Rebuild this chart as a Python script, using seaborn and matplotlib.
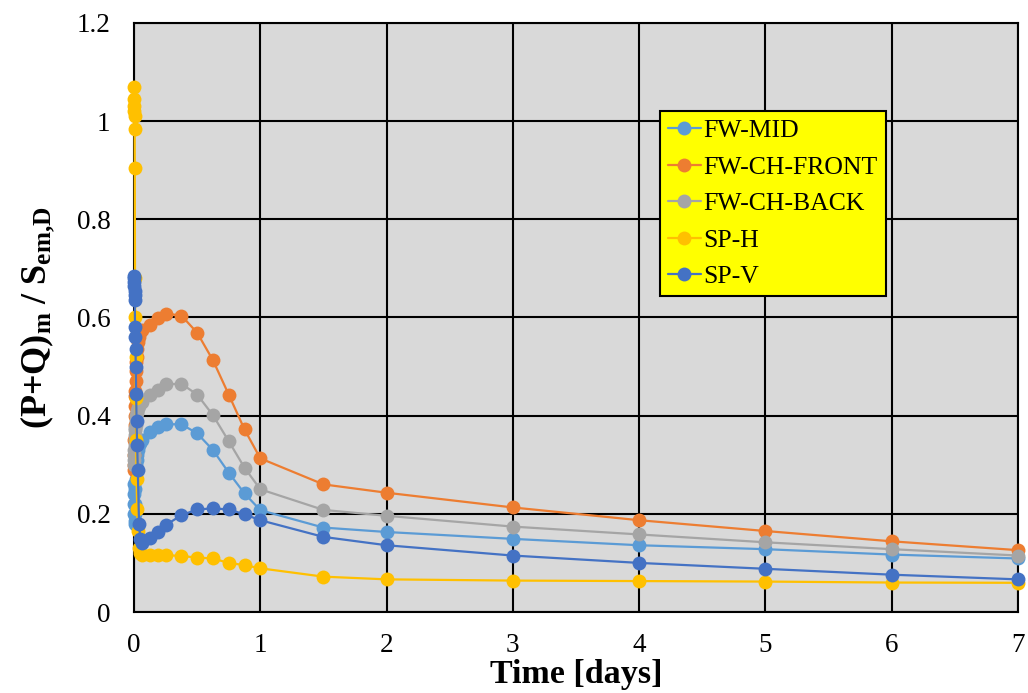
import matplotlib
matplotlib.use("Agg")
import matplotlib.pyplot as plt
import seaborn as sns
import numpy as np
import pandas as pd

# ---------------- data ----------------
time_days = [0, 0.001, 0.002, 0.003, 0.004, 0.005, 0.006, 0.008, 0.01, 0.012,
             0.014, 0.017, 0.02, 0.025, 0.03, 0.04, 0.05, 0.0625,
             0.125, 0.1875, 0.25, 0.375, 0.5, 0.625, 0.75, 0.875, 1.0,
             1.5, 2, 3, 4, 5, 6, 7]

fw_mid = [0.26, 0.24, 0.22, 0.20, 0.18, 0.185, 0.20, 0.22, 0.25, 0.27,
          0.29, 0.30, 0.31, 0.32, 0.33, 0.34, 0.345, 0.350,
          0.367, 0.377, 0.3825, 0.3825, 0.364, 0.330, 0.284, 0.2415, 0.2075,
          0.172, 0.163, 0.149, 0.136, 0.128, 0.117, 0.109]

fw_ch_front = [0.29, 0.30, 0.32, 0.35, 0.38, 0.40, 0.42, 0.44, 0.45, 0.47,
               0.49, 0.51, 0.52, 0.535, 0.55, 0.56, 0.57, 0.574,
               0.584, 0.598, 0.608, 0.604, 0.569, 0.513, 0.443, 0.372, 0.313,
               0.260, 0.243, 0.213, 0.187, 0.165, 0.144, 0.126]

fw_ch_back = [0.30, 0.31, 0.32, 0.33, 0.34, 0.35, 0.36, 0.37, 0.375, 0.38,
              0.39, 0.40, 0.405, 0.41, 0.415, 0.42, 0.425, 0.428,
              0.4415, 0.453, 0.464, 0.465, 0.443, 0.401, 0.348, 0.294, 0.250,
              0.208, 0.196, 0.174, 0.158, 0.142, 0.128, 0.115]

sp_h = [1.07, 1.045, 1.03, 1.02, 1.011, 0.985, 0.905, 0.68, 0.60, 0.52,
        0.435, 0.35, 0.27, 0.21, 0.165, 0.13, 0.12, 0.117,
        0.116, 0.116, 0.116, 0.114, 0.111, 0.109, 0.100, 0.0955, 0.089,
        0.072, 0.0665, 0.064, 0.063, 0.062, 0.060, 0.0595]

sp_v = [0.685, 0.68, 0.672, 0.665, 0.655, 0.645, 0.635, 0.58, 0.56, 0.535,
        0.50, 0.445, 0.39, 0.34, 0.29, 0.18, 0.148, 0.14,
        0.15, 0.163, 0.177, 0.197, 0.209, 0.211, 0.209, 0.199, 0.187,
        0.153, 0.136, 0.115, 0.100, 0.088, 0.076, 0.0665]

series_names = ["FW-MID", "FW-CH-FRONT", "FW-CH-BACK", "SP-H", "SP-V"]
series_values = [fw_mid, fw_ch_front, fw_ch_back, sp_h, sp_v]
series_colors = ["#5B9BD5", "#ED7D31", "#A5A5A5", "#FFC000", "#4472C4"]

x_ticks = [0, 1, 2, 3, 4, 5, 6, 7]
y_ticks = [0, 0.2, 0.4, 0.6, 0.8, 1.0, 1.2]
y_tick_labels = ["0", "0.2", "0.4", "0.6", "0.8", "1", "1.2"]

# ---------------- style ----------------
sns.set_style("white")
plt.rcParams["font.family"] = ["Liberation Serif", "DejaVu Serif"]
plt.rcParams["mathtext.fontset"] = "custom"
plt.rcParams["mathtext.rm"] = "Liberation Serif"
plt.rcParams["mathtext.bf"] = "Liberation Serif:bold"
plt.rcParams["mathtext.it"] = "Liberation Serif:italic"
plt.rcParams["text.color"] = "black"
plt.rcParams["axes.labelcolor"] = "black"
plt.rcParams["xtick.color"] = "black"
plt.rcParams["ytick.color"] = "black"

fig = plt.figure(figsize=(10.28, 6.93), dpi=100)
ax = fig.add_axes([134 / 1028, 1 - 612 / 693, (1018 - 134) / 1028, (612 - 23) / 693])
ax.set_facecolor("#D9D9D9")

for name, vals, col in zip(series_names, series_values, series_colors):
    df = pd.DataFrame({"t": time_days, "v": vals})
    sns.lineplot(data=df, x="t", y="v", ax=ax, color=col, marker="o",
                 markersize=10, markeredgewidth=0, linewidth=1.6,
                 estimator=None, sort=False, label=name, clip_on=False,
                 zorder=3)

ax.set_xlim(0, 7)
ax.set_ylim(0, 1.2)
ax.set_xticks(x_ticks)
ax.set_xticklabels([str(v) for v in x_ticks])
ax.set_yticks(y_ticks)
ax.set_yticklabels(y_tick_labels)
ax.tick_params(axis="both", length=0, labelsize=19.5, colors="black")
ax.tick_params(axis="x", pad=15)
ax.tick_params(axis="y", pad=17)
ax.grid(True, color="black", linewidth=1.5)
ax.set_axisbelow(True)
for s in ax.spines.values():
    s.set_color("black")
    s.set_linewidth(1.5)

ax.set_xlabel("Time [days]", fontsize=24.5, fontweight="bold", labelpad=1,
              color="black")
ax.set_ylabel(r"$\mathbf{(P{+}Q)_m\ /\ S_{em{,}D}}$", fontsize=26, labelpad=14,
              color="black")

leg = ax.legend(loc="upper left", bbox_to_anchor=(0.595, 0.85), fontsize=18.5,
                frameon=True, fancybox=False, facecolor="#FFFF00",
                edgecolor="black", framealpha=1, handlelength=1.3,
                handletextpad=0.1, labelspacing=0.53, borderpad=0.3,
                borderaxespad=0)
leg.get_frame().set_linewidth(1.5)
for txt in leg.get_texts():
    txt.set_color("black")
leg.set_zorder(5)

fig.savefig("out.png", dpi=100)
